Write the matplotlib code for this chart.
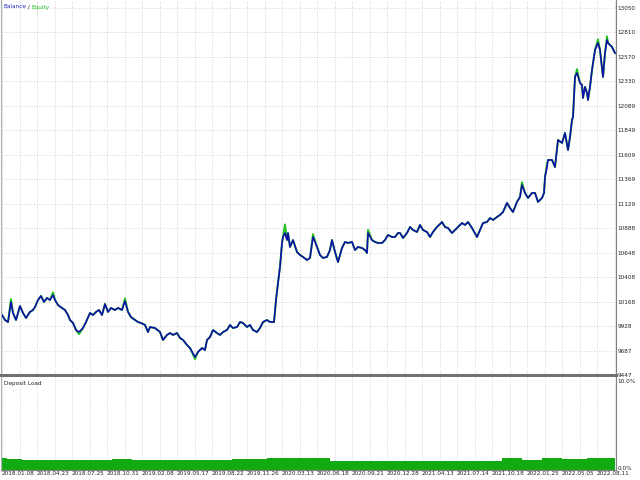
#!/usr/bin/env python3

"""
Strategy tester style chart: balance / equity curve with a deposit load strip below.
Saves out.png (640x480).
"""

#imports
import numpy as np
import matplotlib
matplotlib.use('Agg')
import matplotlib.pyplot as plt
from matplotlib import font_manager

#data
trades = [0, 6, 12, 18, 22, 28, 36, 42, 48, 56, 62, 66, 72, 78, 84, 90, 96, 102, 106, 112,
          120, 126, 132, 136, 142, 148, 154, 162, 168, 176, 182, 188, 194, 200, 206, 212, 218, 226,
          232, 240, 246, 252, 258, 266, 272, 278, 286, 292,
          296, 306, 316, 322, 330, 336, 342, 350, 356, 362, 370, 376, 386, 392, 400, 406, 410, 416,
          422, 430, 436, 442, 450, 456, 462, 470, 476, 482, 490, 496, 502, 510, 516, 522, 530, 536, 544,
          548, 552, 556, 560, 562, 566,
          570, 572, 576, 582, 590, 596, 602, 610, 616, 622, 630, 636, 642, 650, 656, 660, 666, 672,
          680, 686, 692, 700, 706, 712, 720, 726, 730, 732, 740, 746, 752, 760, 766, 772, 780, 786, 792,
          796, 802, 810, 816, 822, 830, 836, 842, 850, 856, 862, 870, 880, 886, 892, 900, 906, 912,
          920, 926, 932, 940, 950, 956, 962, 970, 976, 982, 990, 996, 1002, 1010, 1016, 1022, 1030,
          1036, 1040, 1046, 1052, 1060, 1066, 1072, 1080, 1084, 1086, 1090,
          1092, 1100, 1106, 1112, 1120, 1126, 1132, 1136, 1140, 1142, 1146, 1150, 1156, 1160, 1162,
          1166, 1170, 1172, 1176, 1180, 1186, 1192, 1196, 1202, 1206, 1210, 1212, 1220, 1226]

balance = [10036, 9987, 9967, 10164, 10056, 9987, 10124, 10056, 10007, 10066, 10085, 10115, 10183,
           10223, 10164, 10203, 10183, 10232, 10183, 10134, 10105, 10085, 10036, 9987, 9958, 9889,
           9869, 9908, 9967, 10056, 10036, 10066, 10085, 10036, 10144, 10066, 10105, 10085, 10105,
           10085, 10174, 10066, 10016, 9987, 9967, 9958, 9938, 9869,
           9918, 9908, 9869, 9791, 9840, 9859, 9840, 9859, 9810, 9791, 9742, 9712, 9624, 9673, 9712,
           9692, 9791, 9820, 9889, 9859, 9840, 9869, 9889, 9938, 9908, 9918, 9967, 9958, 9918, 9938,
           9889, 9869, 9908, 9967, 9987, 9967, 9967,
           10183, 10350, 10507, 10743, 10802, 10841,
           10772, 10841, 10704, 10772, 10655, 10625, 10606, 10576, 10596, 10802, 10704, 10625, 10596,
           10606, 10674, 10772, 10655, 10556, 10694, 10753, 10743, 10753, 10674, 10704, 10694, 10674,
           10645, 10841, 10772, 10753, 10743, 10743, 10772, 10822, 10802, 10802, 10841,
           10841, 10792, 10841, 10900, 10871, 10851, 10920, 10871, 10851, 10802, 10851, 10900, 10949,
           10900, 10890, 10841, 10871, 10900, 10939, 10920, 10949, 10890, 10802, 10871, 10939, 10949,
           10988, 10969, 10998, 11018, 11047, 11136, 11087, 11047, 11146, 11195, 11312, 11234, 11185,
           11234, 11234, 11146, 11185, 11234, 11391, 11489,
           11558, 11558, 11489, 11754, 11725, 11823, 11656, 11784, 11951, 11980, 12373, 12412, 12314,
           12294, 12167, 12275, 12216, 12147, 12275, 12441, 12638, 12707, 12638, 12373, 12608, 12736,
           12707, 12667, 12608]

#equity spikes where the green line pokes out of the balance line
equity_spikes = {18: 10192, 102: 10258, 154: 9848, 246: 10200, 386: 9603, 566: 10925,
                 622: 10830, 732: 10872, 1040: 11340, 1090: 11520, 1150: 12450,
                 1192: 12742, 1210: 12772}

load_trades = [0, 10, 40, 220, 260, 460, 530, 656, 970, 1000, 1040, 1080, 1120, 1170, 1200, 1226]
load_values = [1.1, 1.0, 0.9, 1.05, 0.95, 1.0, 1.1, 0.8, 0.8, 1.1, 0.95, 1.1, 1.0, 1.1, 1.15, 1.15]

date_labels = ['2018.01.08', '2018.04.23', '2018.07.25', '2018.10.31', '2019.02.08', '2019.05.17',
               '2019.08.22', '2019.11.26', '2020.03.13', '2020.06.18', '2020.09.21', '2020.12.28',
               '2021.04.13', '2021.07.14', '2021.10.18', '2022.01.25', '2022.05.05', '2022.08.11']

price_labels = ['9447', '9687', '9928', '10168', '10408', '10648', '10888', '11129', '11369',
                '11609', '11849', '12089', '12330', '12570', '12810', '13050']

#constants
GRID = dict(color='#c4c4c4', linestyle=(0, (1, 2)), linewidth=0.6)
FRAME = '#808080'
BLUE = '#1010a8'
GREEN = '#22c422'
LOAD_GREEN = '#12aa12'
X_MAX = 1228
LABEL_STEP = 70


def pick_font():
    """
    Finds a narrow font for the small chart labels.

    Output: dict of text keyword arguments
    """

    #narrow fonts first, then plain ones at a smaller size
    candidates = [
        (dict(family='Liberation Sans Narrow'), 5.6, 'Narrow'),
        (dict(family='DejaVu Sans', stretch='condensed'), 4.6, 'Condensed'),
        (dict(family='Liberation Sans'), 4.6, 'Liberation'),
    ]
    for props, size, tag in candidates:
        try:
            path = font_manager.findfont(font_manager.FontProperties(**props),
                                         fallback_to_default=False)
        except Exception:
            continue
        if tag in path:
            return dict(fontproperties=font_manager.FontProperties(fname=path, size=size))
    return dict(fontsize=4.4, family='DejaVu Sans')


def draw_main(fig, font):
    """Balance and equity panel."""
    ax = fig.add_axes([1 / 640, 105 / 480, 615 / 640, 375 / 480])
    equity = [equity_spikes.get(t, v) for t, v in zip(trades, balance)]

    ax.plot(trades, equity, color=GREEN, linewidth=1.4)
    ax.plot(trades, balance, color=BLUE, linewidth=1.2)

    lo = float(price_labels[0])
    hi = float(price_labels[-1])
    step = (hi - lo) / (len(price_labels) - 1)
    ax.set_ylim(lo, lo + step * 375 / (367 / 15))
    ax.set_xlim(-2, X_MAX)

    ax.set_yticks(np.linspace(lo, hi, len(price_labels)))
    ax.set_yticklabels(price_labels, color='#222222', **font)
    ax.yaxis.tick_right()
    ax.tick_params(axis='y', length=0, pad=1)

    ax.set_xticks(np.arange(0, X_MAX, LABEL_STEP / 2))
    ax.tick_params(axis='x', length=0, labelbottom=False)
    ax.grid(True, **GRID)
    ax.set_axisbelow(True)

    ax.spines['top'].set_visible(False)
    ax.spines['left'].set_color('#b0b0b0')
    ax.spines['right'].set_color(FRAME)
    ax.spines['bottom'].set_color('#707070')
    ax.spines['bottom'].set_linewidth(2.2)

    #legend text in two colours
    renderer = fig.canvas.get_renderer()
    x = 3 / 640
    y = 1 - 7 / 480
    for word, col in [('Balance', '#2a2ac8'), (' / ', '#333333'), ('Equity', '#22bb22')]:
        t = fig.text(x, y, word, color=col, va='center', ha='left', **font)
        bb = t.get_window_extent(renderer=renderer)
        x += bb.width / fig.bbox.width
    return ax


def draw_load(fig, font):
    """Deposit load strip."""
    ax = fig.add_axes([1 / 640, 10 / 480, 615 / 640, 93 / 480])
    bottom = -2 / 8.7
    ax.fill_between(load_trades, load_values, bottom, step='post', color=LOAD_GREEN, linewidth=0)

    ax.set_xlim(-2, X_MAX)
    ax.set_ylim(bottom, 10 + 4 / 8.7)

    ax.set_xticks(np.arange(0, X_MAX, LABEL_STEP / 2), minor=True)
    ax.set_xticks(np.arange(0, LABEL_STEP * len(date_labels), LABEL_STEP))
    ax.set_xticklabels(date_labels, ha='left', color='#222222', **font)
    ax.tick_params(axis='x', which='both', length=0, pad=1)
    ax.grid(True, axis='x', which='both', **GRID)
    ax.set_axisbelow(True)

    ax.yaxis.tick_right()
    ax.set_yticks([10, 0])
    ax.set_yticklabels(['10.0%', '0.0%'], color='#222222', **font)
    ax.tick_params(axis='y', length=0, pad=1)

    ax.spines['top'].set_visible(False)
    ax.spines['left'].set_color('#b0b0b0')
    ax.spines['right'].set_color(FRAME)
    ax.spines['bottom'].set_color(FRAME)

    ax.text(3 / 615, 1 - 6 / 93, 'Deposit Load', transform=ax.transAxes,
            color='#222222', va='center', ha='left', **font)
    return ax


def main():
    font = pick_font()
    fig = plt.figure(figsize=(6.4, 4.8), dpi=100)
    fig.patch.set_facecolor('white')
    draw_main(fig, font)
    draw_load(fig, font)
    fig.savefig('out.png', dpi=100)


if __name__ == '__main__':
    main()
